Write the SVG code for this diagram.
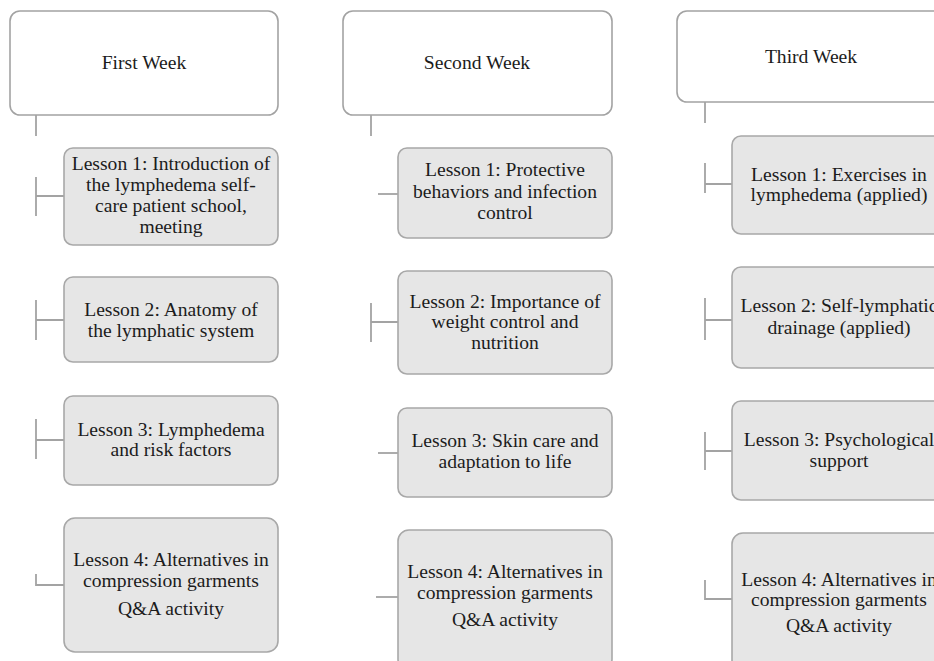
<svg xmlns="http://www.w3.org/2000/svg" width="934" height="661" viewBox="0 0 934 661">
<style>
.hdr{fill:#ffffff;stroke:#a3a3a3;stroke-width:1.6}
.box{fill:#e6e6e6;stroke:#a8a8a8;stroke-width:1.6}
.con{fill:none;stroke:#a3a3a3;stroke-width:1.8}
.t{font-size:19.6px;fill:#1c1c1c;text-anchor:middle}
</style>
<rect width="934" height="661" fill="#ffffff"/>
<g id="connectors" class="con">
<path d="M36 115V136"/>
<path d="M36 177V216M36 196H64"/>
<path d="M36 300V340M36 320H64"/>
<path d="M36 419V459M36 440H64"/>
<path d="M36 574V585H64"/>
<path d="M371 115V136"/>
<path d="M378 194H398"/>
<path d="M371 303V342M371 322H398"/>
<path d="M378 453H398"/>
<path d="M376 597H398"/>
<path d="M705 102V123"/>
<path d="M705 163V193M705 184H732"/>
<path d="M705 298V340M705 320H732"/>
<path d="M705 432V470M705 451H732"/>
<path d="M705 580V599H732"/>
</g>
<g class="t" font-family="Liberation Serif, Times New Roman, serif">
<g id="week1">
<rect class="hdr" x="10" y="11" width="268" height="104" rx="10"/>
<text x="144" y="69">First Week</text>
</g>
<g id="w1l1">
<rect class="box" x="64" y="148" width="214" height="97" rx="9"/>
<text x="171" y="170">Lesson 1: Introduction of</text>
<text x="171" y="191">the lymphedema self-</text>
<text x="171" y="212">care patient school,</text>
<text x="171" y="233">meeting</text>
</g>
<g id="w1l2">
<rect class="box" x="64" y="277" width="214" height="85" rx="9"/>
<text x="171" y="316">Lesson 2: Anatomy of</text>
<text x="171" y="337">the lymphatic system</text>
</g>
<g id="w1l3">
<rect class="box" x="64" y="396" width="214" height="89" rx="9"/>
<text x="171" y="436">Lesson 3: Lymphedema</text>
<text x="171" y="456">and risk factors</text>
</g>
<g id="w1l4">
<rect class="box" x="64" y="518" width="214" height="134" rx="11"/>
<text x="171" y="566">Lesson 4: Alternatives in</text>
<text x="171" y="587">compression garments</text>
<text x="171" y="615">Q&amp;A activity</text>
</g>
<g id="week2">
<rect class="hdr" x="343" y="11" width="269" height="104" rx="10"/>
<text x="477" y="69">Second Week</text>
</g>
<g id="w2l1">
<rect class="box" x="398" y="148" width="214" height="90" rx="9"/>
<text x="505" y="176">Lesson 1: Protective</text>
<text x="505" y="198">behaviors and infection</text>
<text x="505" y="219">control</text>
</g>
<g id="w2l2">
<rect class="box" x="398" y="271" width="214" height="103" rx="9"/>
<text x="505" y="308">Lesson 2: Importance of</text>
<text x="505" y="328">weight control and</text>
<text x="505" y="349">nutrition</text>
</g>
<g id="w2l3">
<rect class="box" x="398" y="408" width="214" height="89" rx="9"/>
<text x="505" y="447">Lesson 3: Skin care and</text>
<text x="505" y="468">adaptation to life</text>
</g>
<g id="w2l4">
<rect class="box" x="398" y="530" width="214" height="140" rx="11"/>
<text x="505" y="578">Lesson 4: Alternatives in</text>
<text x="505" y="599">compression garments</text>
<text x="505" y="626">Q&amp;A activity</text>
</g>
<g id="week3">
<rect class="hdr" x="677" y="11" width="270" height="91" rx="10"/>
<text x="811" y="63">Third Week</text>
</g>
<g id="w3l1">
<rect class="box" x="732" y="136" width="214" height="98" rx="9"/>
<text x="839" y="181">Lesson 1: Exercises in</text>
<text x="839" y="201">lymphedema (applied)</text>
</g>
<g id="w3l2">
<rect class="box" x="732" y="267" width="214" height="101" rx="9"/>
<text x="839" y="312">Lesson 2: Self-lymphatic</text>
<text x="839" y="334">drainage (applied)</text>
</g>
<g id="w3l3">
<rect class="box" x="732" y="401" width="214" height="99" rx="9"/>
<text x="839" y="446">Lesson 3: Psychological</text>
<text x="839" y="467">support</text>
</g>
<g id="w3l4">
<rect class="box" x="732" y="533" width="214" height="140" rx="11"/>
<text x="839" y="586">Lesson 4: Alternatives in</text>
<text x="839" y="606">compression garments</text>
<text x="839" y="632">Q&amp;A activity</text>
</g>
</g>
</svg>
